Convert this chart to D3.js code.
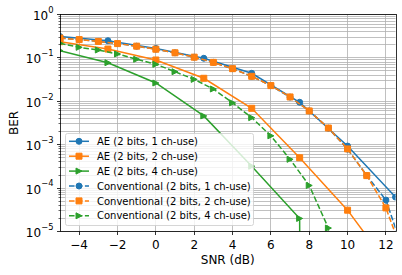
<!DOCTYPE html>
<html>
<head>
<meta charset="utf-8">
<script src="https://cdn.jsdelivr.net/npm/d3@7"></script>
<style>
  body { margin: 0; background: #fff; }
  text { font-family: "DejaVu Sans", sans-serif; fill: #000; }
</style>
</head>
<body>
<div id="chart"></div>
<script>
// values
var snrAE = [-5, -2.5, 0, 2.5, 5, 7.5, 10, 12.5];
var snrConv = [-5, -4, -3, -2, -1, 0, 1, 2, 3, 4, 5, 6, 7, 8, 9, 10, 11, 12, 13];

var berAE1 = [0.31, 0.249, 0.165, 0.098, 0.0442, 0.0095, 9.3e-4, 6.2e-5];
var berAE2 = [0.236, 0.160, 0.0895, 0.0339, 0.0069, 5.0e-4, 3.1e-5, 1.0e-6];
var berAE4 = [0.147, 0.0774, 0.0264, 0.0046, 3.2e-4, 2.0e-5, 0, 0];

var berConv1 = [0.287, 0.263, 0.239, 0.214, 0.186, 0.159, 0.131, 0.104, 0.079, 0.0564,
                0.0376, 0.0229, 0.0125, 0.0060, 0.00240, 7.9e-4, 1.95e-4, 5.3e-5, 2.7e-6];
var berConv2 = [0.287, 0.264, 0.2395, 0.2135, 0.1865, 0.1587, 0.131, 0.104, 0.0789, 0.0565,
                0.0377, 0.0230, 0.0126, 0.0060, 0.00242, 8.0e-4, 1.94e-4, 3.5e-5, 2.2e-6];
var berConv4 = [0.217, 0.175, 0.152, 0.123, 0.093, 0.0712, 0.048, 0.032, 0.0192, 0.0092,
                0.0042, 0.0016, 4.6e-4, 1.15e-4, 1.2e-5, 0, 0, 0, 0];

var xTicks = [-4, -2, 0, 2, 4, 6, 8, 10, 12];
var yTicks = [1e-5, 1e-4, 1e-3, 1e-2, 1e-1, 1];

var seriesList = [
  {label: "AE (2 bits, 1 ch-use)", x: snrAE, y: berAE1, color: "#1f77b4", marker: "circle", dash: null},
  {label: "AE (2 bits, 2 ch-use)", x: snrAE, y: berAE2, color: "#ff7f0e", marker: "square", dash: null},
  {label: "AE (2 bits, 4 ch-use)", x: snrAE, y: berAE4, color: "#2ca02c", marker: "tri", dash: null},
  {label: "Conventional (2 bits, 1 ch-use)", x: snrConv, y: berConv1, color: "#1f77b4", marker: "circle", dash: "5.55,2.4"},
  {label: "Conventional (2 bits, 2 ch-use)", x: snrConv, y: berConv2, color: "#ff7f0e", marker: "square", dash: "5.55,2.4"},
  {label: "Conventional (2 bits, 4 ch-use)", x: snrConv, y: berConv4, color: "#2ca02c", marker: "tri", dash: "5.55,2.4"}
];

var W = 402, H = 275;
var mLeft = 60, mRight = 395.5, mTop = 14.5, mBottom = 231.5;

var x = d3.scaleLinear().domain([-5, 12.5]).range([mLeft, mRight]);
var y = d3.scaleLog().domain([1e-5, 1]).range([mBottom, mTop]);

function snap(v) { return Math.round(v - 0.5) + 0.5; }
function clipY(v) { return v > 0 ? v : 1e-300; }

var svg = d3.select("#chart").append("svg")
  .attr("width", W).attr("height", H);

svg.append("defs").append("clipPath").attr("id", "plot-clip")
  .append("rect")
  .attr("x", mLeft).attr("y", mTop)
  .attr("width", mRight - mLeft).attr("height", mBottom - mTop);

// minor + major y values for grid
var yMinor = [];
yTicks.slice(0, -1).forEach(function (d) {
  for (var k = 2; k <= 9; k++) yMinor.push(d * k);
});

var grid = svg.append("g");
grid.selectAll("line.gx").data(xTicks).enter().append("line")
  .attr("x1", function (d) { return snap(x(d)); })
  .attr("x2", function (d) { return snap(x(d)); })
  .attr("y1", mTop).attr("y2", mBottom)
  .attr("stroke", "#b0b0b0").attr("stroke-width", 0.8);
grid.selectAll("line.gy").data(yTicks.concat(yMinor)).enter().append("line")
  .attr("x1", mLeft).attr("x2", mRight)
  .attr("y1", function (d) { return snap(y(d)); })
  .attr("y2", function (d) { return snap(y(d)); })
  .attr("stroke", "#b0b0b0").attr("stroke-width", 0.8);

// markers
function markerPath(type) {
  if (type === "circle") return d3.symbol(d3.symbolCircle, Math.PI * 9)();
  if (type === "square") return "M-3,-3L3,-3L3,3L-3,3Z";
  return "M3,0L-3,3L-3,-3Z";
}

var plot = svg.append("g").attr("clip-path", "url(#plot-clip)");

var line = d3.line()
  .x(function (d) { return x(d[0]); })
  .y(function (d) { return y(clipY(d[1])); });

seriesList.forEach(function (s) {
  var pts = s.x.map(function (v, i) { return [v, s.y[i]]; });
  var g = plot.append("g");
  g.append("path")
    .attr("d", line(pts))
    .attr("fill", "none")
    .attr("stroke", s.color)
    .attr("stroke-width", 1.5)
    .attr("stroke-dasharray", s.dash);
  g.selectAll("path.m").data(pts.filter(function (d) { return d[1] > 0; }))
    .enter().append("path")
    .attr("d", markerPath(s.marker))
    .attr("transform", function (d) { return "translate(" + x(d[0]) + "," + y(d[1]) + ")"; })
    .attr("fill", s.color)
    .attr("stroke", s.color)
    .attr("stroke-width", 1);
});

// spines
var axes = svg.append("g");
axes.append("rect")
  .attr("x", snap(mLeft)).attr("y", snap(mTop))
  .attr("width", Math.round(mRight - mLeft)).attr("height", Math.round(mBottom - mTop))
  .attr("fill", "none").attr("stroke", "#000").attr("stroke-width", 0.8);

// x ticks
var xg = axes.append("g");
xg.selectAll("line").data(xTicks).enter().append("line")
  .attr("x1", function (d) { return snap(x(d)); })
  .attr("x2", function (d) { return snap(x(d)); })
  .attr("y1", snap(mBottom)).attr("y2", snap(mBottom) + 3.5)
  .attr("stroke", "#000").attr("stroke-width", 0.8);
xg.selectAll("text").data(xTicks).enter().append("text")
  .attr("x", function (d) { return x(d); })
  .attr("y", 249.3)
  .attr("text-anchor", "middle")
  .attr("font-size", 12)
  .text(function (d) { return d < 0 ? "\u2212" + Math.abs(d) : String(d); });

// y ticks
var yg = axes.append("g");
yg.selectAll("line.maj").data(yTicks).enter().append("line")
  .attr("x1", snap(mLeft) - 3.5).attr("x2", snap(mLeft))
  .attr("y1", function (d) { return snap(y(d)); })
  .attr("y2", function (d) { return snap(y(d)); })
  .attr("stroke", "#000").attr("stroke-width", 0.8);
yg.selectAll("line.min").data(yMinor).enter().append("line")
  .attr("x1", snap(mLeft) - 2).attr("x2", snap(mLeft))
  .attr("y1", function (d) { return snap(y(d)); })
  .attr("y2", function (d) { return snap(y(d)); })
  .attr("stroke", "#000").attr("stroke-width", 0.6);
var yl = yg.selectAll("text").data(yTicks).enter().append("text")
  .attr("x", 53.5)
  .attr("y", function (d) { return y(d) + 5.4; })
  .attr("text-anchor", "end")
  .attr("font-size", 12);
yl.append("tspan").text("10");
yl.append("tspan")
  .attr("dy", -7.2)
  .attr("font-size", 8.4)
  .text(function (d) {
    var e = Math.round(Math.log10(d));
    return e < 0 ? "\u2212" + Math.abs(e) : String(e);
  });

// axis labels
svg.append("text")
  .attr("x", (mLeft + mRight) / 2).attr("y", 263.5)
  .attr("text-anchor", "middle").attr("font-size", 12)
  .text("SNR (dB)");
svg.append("text")
  .attr("transform", "translate(17.5," + ((mTop + mBottom) / 2) + ") rotate(-90)")
  .attr("text-anchor", "middle").attr("font-size", 12)
  .text("BER");

// legend
var lg = svg.append("g");
var lx = 65, ly = 133, lw = 188, rowH = 14.9;
lg.append("rect")
  .attr("x", lx + 0.5).attr("y", ly + 0.5)
  .attr("width", lw).attr("height", 92)
  .attr("rx", 2).attr("ry", 2)
  .attr("fill", "#fff").attr("fill-opacity", 0.8)
  .attr("stroke", "#cccccc").attr("stroke-width", 0.8);
seriesList.forEach(function (s, i) {
  var cy = ly + 8.3 + i * rowH;
  lg.append("line")
    .attr("x1", lx + 4).attr("x2", lx + 24)
    .attr("y1", cy).attr("y2", cy)
    .attr("stroke", s.color).attr("stroke-width", 1.5)
    .attr("stroke-dasharray", s.dash);
  lg.append("path")
    .attr("d", markerPath(s.marker))
    .attr("transform", "translate(" + (lx + 14) + "," + cy + ")")
    .attr("fill", s.color).attr("stroke", s.color).attr("stroke-width", 1);
  lg.append("text")
    .attr("x", lx + 32).attr("y", cy + 3.6)
    .attr("font-size", 10)
    .text(s.label);
});
</script>
</body>
</html>
